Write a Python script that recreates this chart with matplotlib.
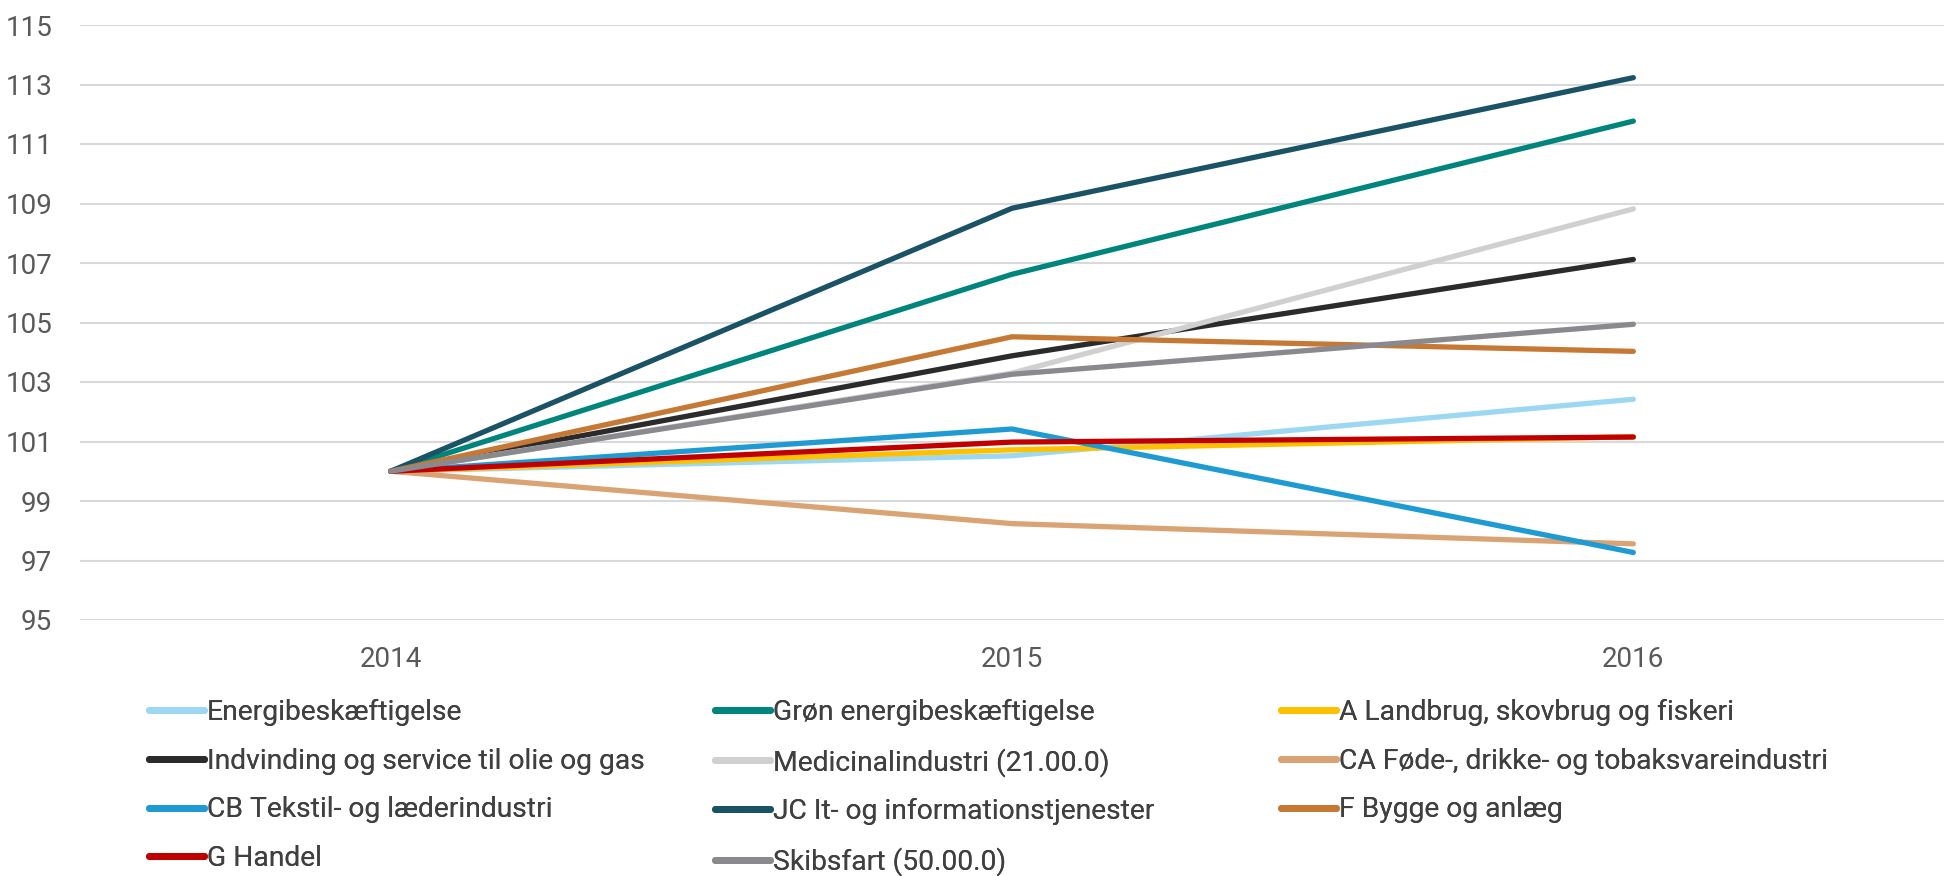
import matplotlib
matplotlib.use("Agg")
import matplotlib.pyplot as plt

plt.rcParams['font.family'] = ['Roboto', 'DejaVu Sans']

years = ["2014", "2015", "2016"]

names = [
    "Energibeskæftigelse",
    "Grøn energibeskæftigelse",
    "A Landbrug, skovbrug og fiskeri",
    "Indvinding og service til olie og gas",
    "Medicinalindustri (21.00.0)",
    "CA Føde-, drikke- og tobaksvareindustri",
    "CB Tekstil- og læderindustri",
    "JC It- og informationstjenester",
    "F Bygge og anlæg",
    "G Handel",
    "Skibsfart (50.00.0)",
]

energi = [100, 100.52, 102.42]
groen = [100, 106.62, 111.77]
landbrug = [100, 100.72, 101.16]
olie = [100, 103.88, 107.12]
medicinal = [100, 103.30, 108.82]
foede = [100, 98.24, 97.56]
tekstil = [100, 101.42, 97.27]
it = [100, 108.84, 113.23]
bygge = [100, 104.52, 104.03]
handel = [100, 100.98, 101.15]
skibsfart = [100, 103.26, 104.94]

series = [energi, groen, landbrug, olie, medicinal, foede, tekstil, it, bygge, handel, skibsfart]

colors = ["#9DD8F2", "#00857D", "#FFC000", "#2B2B2B", "#D0D0D0", "#D9A373",
          "#1F9BD3", "#1A5266", "#C57935", "#C00000", "#8A898E"]

fig = plt.figure(figsize=(19.44, 8.76), dpi=100)
ax = fig.add_axes([80/1944, 1-620/876, 1-80/1944, (620-25)/876])

x = list(range(len(years)))
lines = []
for vals, c, n in zip(series, colors, names):
    ln, = ax.plot(x, vals, color=c, lw=3.8, label=n, solid_capstyle='round',
                  solid_joinstyle='round')
    lines.append(ln)

ax.set_xlim(-0.5, 2.5)
ax.set_ylim(95, 115)
ax.set_yticks(range(95, 116, 2))
ax.set_xticks(x)
ax.set_xticklabels(years)
ax.grid(axis='y', color='#D9D9D9', lw=1.5)
ax.set_axisbelow(True)
for s in ax.spines.values():
    s.set_visible(False)
ax.tick_params(axis='both', length=0, labelsize=20, colors='#595959')
ax.tick_params(axis='y', pad=20)
ax.tick_params(axis='x', pad=19)

# legend: three separate columns so the spacing matches
col_x = [149/1944, 715/1944, 1281/1944]
for i, cx in enumerate(col_x):
    idx = list(range(i, len(names), 3))
    leg = fig.legend([lines[k] for k in idx], [names[k] for k in idx],
                     loc='upper left', bbox_to_anchor=(cx, 1-699/876),
                     frameon=False, fontsize=20.3, handlelength=1.95,
                     handletextpad=0.1, labelspacing=0.77, borderaxespad=0,
                     borderpad=0)
    for t in leg.get_texts():
        t.set_color('#404040')
    for h in leg.get_lines():
        h.set_linewidth(5)
    fig.add_artist(leg)

fig.savefig("out.png", dpi=100)
